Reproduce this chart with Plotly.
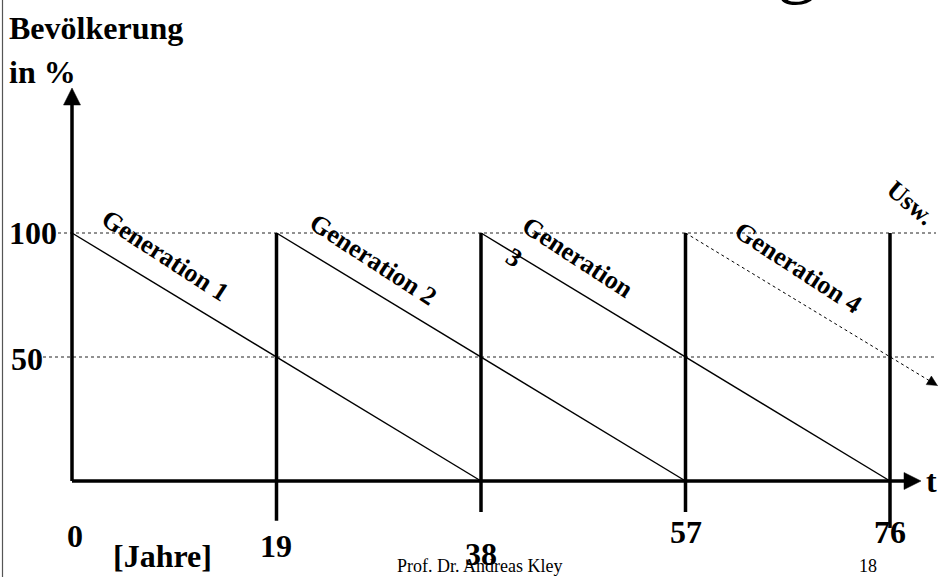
import plotly.graph_objects as go

# --- data -------------------------------------------------------------
years = [0, 19, 38, 57, 76]
year_labels = ["0", "19", "38", "57", "76"]
levels = [100, 50]
level_labels = ["100", "50"]

gen_names = ["Generation 1", "Generation 2", "Generation", "Generation 4"]
gen_start_year = [0, 19, 38, 57]
gen_end_year = [38, 57, 76, 80.4]
gen_end_value = [0, 0, 0, 38.5]

# --- canvas / coordinate helpers ---------------------------------------
W, H = 941, 577
X0, X1 = -6.689, 80.738
Y0, Y1 = -38.71, 193.95
FONT = "Liberation Serif, Times New Roman, serif"


def dx(px):
    return X0 + px * (X1 - X0) / W


def dy(py):
    return Y1 - py * (Y1 - Y0) / H


def pxx(x):
    return (x - X0) * W / (X1 - X0)


def pxy(y):
    return (Y1 - y) * H / (Y1 - Y0)


fig = go.Figure()

# dotted reference levels
level_start_px = [58, 43]
for lv, sx in zip(levels, level_start_px):
    fig.add_trace(go.Scatter(
        x=[dx(sx), dx(936)], y=[lv, lv], mode="lines",
        line=dict(color="#222222", width=1, dash="dot"),
        hoverinfo="skip", showlegend=False))

# vertical generation markers
vert_bottom = [None, -16, -12.5, -12.5, -19]
for yr, bot in zip(years[1:], vert_bottom[1:]):
    fig.add_trace(go.Scatter(
        x=[yr, yr], y=[levels[0], bot], mode="lines",
        line=dict(color="black", width=3.5),
        hoverinfo="skip", showlegend=False))

# generation decay lines
for i in range(len(gen_names)):
    dotted = i == len(gen_names) - 1
    fig.add_trace(go.Scatter(
        x=[gen_start_year[i], gen_end_year[i]],
        y=[levels[0], gen_end_value[i]], mode="lines",
        line=dict(color="black", width=1 if dotted else 1.4,
                  dash="dot" if dotted else "solid"),
        hoverinfo="skip", showlegend=False))

shapes = []
# axes
shapes.append(dict(type="line", xref="x", yref="y", x0=0, y0=0,
                   x1=0, y1=dy(102), line=dict(color="black", width=3.5)))
shapes.append(dict(type="line", xref="x", yref="y", x0=0, y0=0,
                   x1=dx(904), y1=0, line=dict(color="black", width=3.5)))


def tri(tip_px, dir_px, length, half):
    tx, ty = tip_px
    ux, uy = dir_px
    n = (ux ** 2 + uy ** 2) ** 0.5
    ux, uy = ux / n, uy / n
    bx, by = tx - ux * length, ty - uy * length
    px_, py_ = -uy, ux
    pts = [(tx, ty), (bx + px_ * half, by + py_ * half),
           (bx - px_ * half, by - py_ * half)]
    path = "M " + " L ".join(f"{dx(a)},{dy(b)}" for a, b in pts) + " Z"
    return dict(type="path", xref="x", yref="y", path=path,
                fillcolor="black", line=dict(color="black", width=0.5))


shapes.append(tri((pxx(0), 88), (0, -1), 17, 8.5))
shapes.append(tri((921, pxy(0)), (1, 0), 17, 8.5))
g4_tip = (pxx(gen_end_year[3]), pxy(gen_end_value[3]))
g4_dir = (pxx(gen_end_year[3]) - pxx(gen_start_year[3]),
          pxy(gen_end_value[3]) - pxy(levels[0]))
shapes.append(tri(g4_tip, g4_dir, 10, 5))

# slide border on the left
shapes.append(dict(type="line", xref="paper", yref="paper",
                   x0=2.5 / W, x1=2.5 / W, y0=0, y1=1,
                   line=dict(color="#555555", width=1.2)))

annotations = []


def text(s, x, y, size, bold=True, angle=0, xref="paper", yref="paper",
         xanchor="center", yanchor="middle"):
    if xref == "paper":
        x = x / W
    if yref == "paper":
        y = 1 - y / H
    annotations.append(dict(
        text=f"<b>{s}</b>" if bold else s, x=x, y=y, xref=xref, yref=yref,
        xanchor=xanchor, yanchor=yanchor, showarrow=False, textangle=angle,
        font=dict(family=FONT, size=size, color="black")))


# y axis title
text("Bevölkerung", 7, 28, 32, xanchor="left")
text("in %", 7, 72, 32, xanchor="left")

# level labels
level_label_px = [(7, 233), (9, 359)]
for lab, (lx, ly) in zip(level_labels, level_label_px):
    text(lab, lx, ly, 32, xanchor="left")

# year tick labels
year_label_y = [536, 546, 554, 532, 532]
for yr, lab, ly in zip(years, year_labels, year_label_y):
    text(lab, pxx(yr) + (3 if yr == 0 else 0), ly, 32)
text("[Jahre]", 162, 556, 32)
text("t", 931, 481, 32)

# generation labels
gen_label_px = [(165, 255), (373, 259), (578, 257), (798, 267)]
for name, (gx, gy) in zip(gen_names, gen_label_px):
    text(name, gx, gy, 26, angle=33)
text("3", 514, 257, 26, angle=33)
text("Usw.", 910, 203, 26, angle=40)

# footer
text("Prof. Dr. Andreas Kley", 479, 566, 18, bold=False)
text("18", 868, 566, 18, bold=False)

# cut-off slide heading glyph
text("g", 797, -39, 80, bold=False)

fig.update_layout(
    width=W, height=H, margin=dict(l=0, r=0, t=0, b=0),
    paper_bgcolor="white", plot_bgcolor="white",
    xaxis=dict(range=[X0, X1], visible=False, fixedrange=True),
    yaxis=dict(range=[Y0, Y1], visible=False, fixedrange=True),
    shapes=shapes, annotations=annotations, showlegend=False)

fig.write_html("out.html", config={"displayModeBar": False})
